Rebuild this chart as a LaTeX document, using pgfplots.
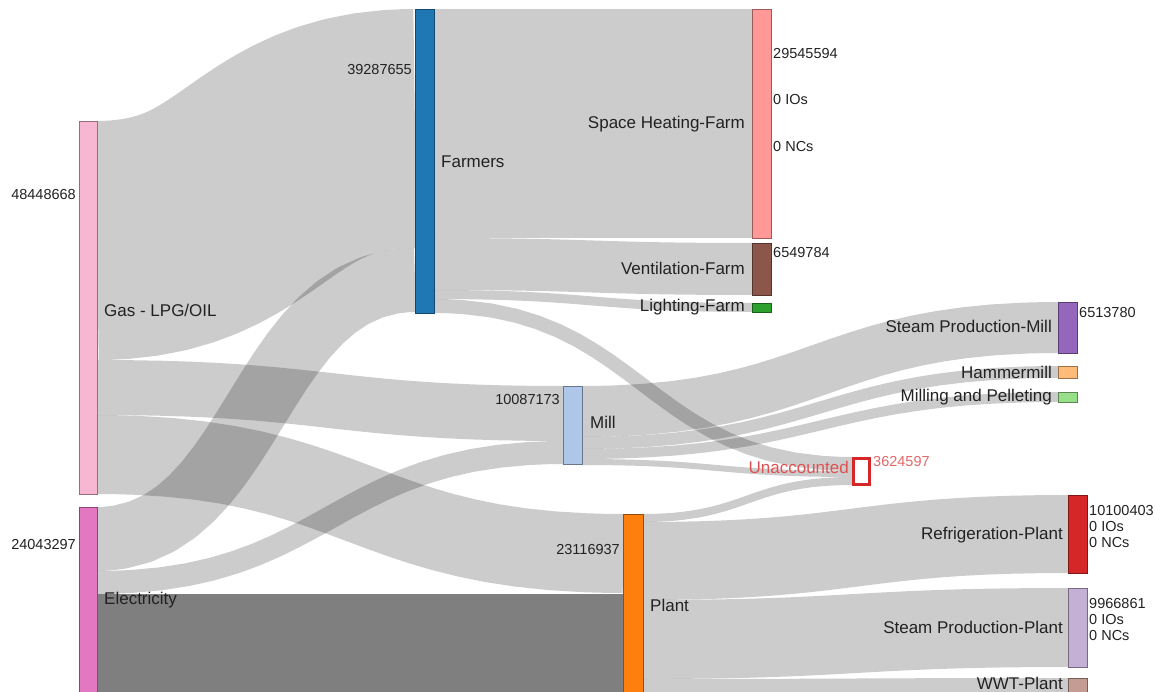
\documentclass[border=0pt]{standalone}
\usepackage{fontspec}
\setmainfont{Liberation Sans}
\usepackage{pgfplots}
\pgfplotsset{compat=1.18}

\definecolor{cGas}{HTML}{F7B6D2}
\definecolor{cElec}{HTML}{E377C2}
\definecolor{cFarm}{HTML}{1F77B4}
\definecolor{cMill}{HTML}{AEC7E8}
\definecolor{cPlant}{HTML}{FF7F0E}
\definecolor{cSH}{HTML}{FF9896}
\definecolor{cVent}{HTML}{8C564B}
\definecolor{cLight}{HTML}{2CA02C}
\definecolor{cSPM}{HTML}{9467BD}
\definecolor{cHam}{HTML}{FFBB78}
\definecolor{cMil}{HTML}{98DF8A}
\definecolor{cRed}{HTML}{D62728}
\definecolor{cSPP}{HTML}{C5B0D5}
\definecolor{cWWT}{HTML}{C49C94}
\definecolor{txt}{HTML}{222222}

\newcommand\lab{\fontsize{17}{20}\selectfont}
\newcommand\num{\fontsize{14.5}{17}\selectfont}

% link: x0, centre y at source, x1, centre y at target, width (px), opacity
\newcommand\flow[6]{%
  \gdef\pts{}%
  \foreach \t in {0,0.02,0.05,0.1,0.15,0.2,0.25,0.3,0.35,0.4,0.45,0.5,0.55,0.6,0.65,0.7,0.75,0.8,0.85,0.9,0.95,0.98,1}{%
    \pgfmathsetmacro\fx{#1+(#3-#1)*(1.5*\t-1.5*\t*\t+\t*\t*\t)}%
    \pgfmathsetmacro\fy{#2+(#4-#2)*(3*\t*\t-2*\t*\t*\t)}%
    \xdef\pts{\pts(\fx,\fy)}}%
  \edef\tmp{\noexpand\addplot[draw=black,draw opacity=#6,line width=#5pt,line join=round] coordinates {\pts};}\tmp}

% node box: x0, y0, x1, y1, colour
\newcommand\snode[5]{%
  \addplot[fill=#5,draw=#5!60!black,line width=0.8pt] coordinates {(#1,#2) (#3,#2) (#3,#4) (#1,#4)} --cycle;}

\begin{document}
\begin{tikzpicture}
\begin{axis}[
  scale only axis,
  width=1155pt, height=692pt,
  xmin=0, xmax=1155, ymin=0, ymax=692,
  y dir=reverse,
  hide axis,
  clip=true,
]
% flows from the sources
\flow{97}{240.5}{415}{128.5}{239}{0.2}
\flow{97}{387.5}{563}{413.5}{55}{0.2}
\flow{97}{454.5}{623}{553.5}{79}{0.2}
\flow{97}{539}{415}{280}{64}{0.2}
\flow{97}{582.5}{563}{452.5}{23}{0.2}
\flow{97}{643}{623}{643}{98}{0.5}
% Farmers
\flow{434}{123.5}{752}{123.5}{229}{0.2}
\flow{434}{264}{752}{269}{52}{0.2}
\flow{434}{294.5}{752}{307.5}{9}{0.2}
\flow{434}{306}{852}{464}{14}{0.2}
% Mill
\flow{582}{411.5}{1058}{327.5}{51}{0.2}
\flow{582}{443}{1058}{372}{12}{0.2}
\flow{582}{454}{1058}{397}{10}{0.2}
\flow{582}{462}{852}{474}{6}{0.2}
% Plant
\flow{643}{518}{852}{481}{8}{0.2}
\flow{643}{561}{1068}{534}{78}{0.2}
\flow{643}{639.5}{1068}{627.5}{79}{0.2}
\flow{643}{687.5}{1068}{686.5}{17}{0.2}

% nodes
\snode{79}{121}{97}{494}{cGas}
\snode{79}{507}{97}{695}{cElec}
\snode{415}{9}{434}{313}{cFarm}
\snode{563}{386}{582}{464}{cMill}
\snode{623}{514}{643}{695}{cPlant}
\snode{752}{9}{771}{238}{cSH}
\snode{752}{243}{771}{295}{cVent}
\snode{752}{303}{771}{312}{cLight}
\snode{1058}{302}{1077}{353}{cSPM}
\snode{1058}{366}{1077}{378}{cHam}
\snode{1058}{392}{1077}{402}{cMil}
\snode{1068}{495}{1087}{573}{cRed}
\snode{1068}{588}{1087}{667}{cSPP}
\snode{1068}{678}{1087}{695}{cWWT}
\addplot[fill=white,draw=cRed,line width=3pt] coordinates {(853,458) (869,458) (869,484) (853,484)} --cycle;

% labels
\begin{scope}[every node/.style={inner sep=0pt,text=txt}]
\node[anchor=east,font=\num] at (axis cs:76,195) {48448668};
\node[anchor=west,font=\lab] at (axis cs:104,310) {Gas - LPG/OIL};
\node[anchor=east,font=\num] at (axis cs:76,545) {24043297};
\node[anchor=west,font=\lab] at (axis cs:104,600) {Electricity};
\node[anchor=east,font=\num] at (axis cs:412,70) {39287655};
\node[anchor=west,font=\lab] at (axis cs:441,162) {Farmers};
\node[anchor=east,font=\num] at (axis cs:560,400) {10087173};
\node[anchor=west,font=\lab] at (axis cs:590,422) {Mill};
\node[anchor=east,font=\num] at (axis cs:620,550) {23116937};
\node[anchor=west,font=\lab] at (axis cs:650,605) {Plant};
\node[anchor=east,font=\lab] at (axis cs:745,124) {Space Heating-Farm};
\node[anchor=west,font=\num] at (axis cs:773,54) {29545594};
\node[anchor=west,font=\num] at (axis cs:773,100) {0 IOs};
\node[anchor=west,font=\num] at (axis cs:773,147) {0 NCs};
\node[anchor=east,font=\lab] at (axis cs:745,268) {Ventilation-Farm};
\node[anchor=west,font=\num] at (axis cs:773,253) {6549784};
\node[anchor=east,font=\lab] at (axis cs:745,307) {Lighting-Farm};
\node[anchor=east,font=\lab] at (axis cs:1052,326) {Steam Production-Mill};
\node[anchor=west,font=\num] at (axis cs:1079,313) {6513780};
\node[anchor=east,font=\lab] at (axis cs:1052,372) {Hammermill};
\node[anchor=east,font=\lab] at (axis cs:1052,397) {Milling and Pelleting};
\node[anchor=east,font=\lab,text=cRed!80] at (axis cs:849,467) {Unaccounted};
\node[anchor=west,font=\num,text=cRed!70] at (axis cs:873,462) {3624597};
\node[anchor=east,font=\lab] at (axis cs:1063,535) {Refrigeration-Plant};
\node[anchor=west,font=\num] at (axis cs:1089,511) {10100403};
\node[anchor=west,font=\num] at (axis cs:1089,527) {0 IOs};
\node[anchor=west,font=\num] at (axis cs:1089,543) {0 NCs};
\node[anchor=east,font=\lab] at (axis cs:1063,627) {Steam Production-Plant};
\node[anchor=west,font=\num] at (axis cs:1089,604) {9966861};
\node[anchor=west,font=\num] at (axis cs:1089,620) {0 IOs};
\node[anchor=west,font=\num] at (axis cs:1089,636) {0 NCs};
\node[anchor=east,font=\lab] at (axis cs:1063,683) {WWT-Plant};
\end{scope}
\end{axis}
\pgfresetboundingbox
\path (current axis.south west) rectangle (current axis.north east);
\end{tikzpicture}
\end{document}
